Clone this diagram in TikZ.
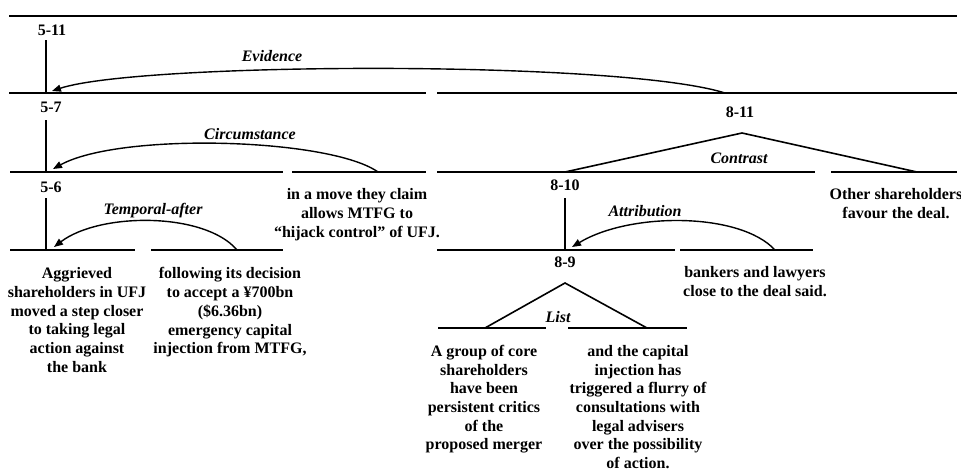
\documentclass[tikz,border=0pt]{standalone}
\usepackage{fontspec}
\setmainfont{Liberation Serif}
\usetikzlibrary{arrows.meta}
\begin{document}
\begin{tikzpicture}[x=1pt,y=-1pt,
  seg/.style={line width=1.6pt},
  rel/.style={line width=1.4pt,-{Triangle[length=9pt,width=7pt]}},
  txt/.style={anchor=north,inner sep=0pt,align=center,font=\fontsize{16}{18.7}\selectfont\bfseries},
  span/.style={anchor=base,inner sep=0pt,font=\fontsize{16}{18}\selectfont\bfseries},
  lab/.style={anchor=base,inner sep=0pt,font=\fontsize{16}{18}\selectfont\bfseries\itshape}]
\useasboundingbox (0,0) rectangle (961,471);

% horizontal span lines
\draw[seg] (9,16) -- (957,16);
\draw[seg] (9,93) -- (426,93);
\draw[seg] (437,93) -- (957,93);
\draw[seg] (10,172) -- (283,172);
\draw[seg] (292,172) -- (426,172);
\draw[seg] (437,172) -- (815,172);
\draw[seg] (831,172) -- (957,172);
\draw[seg] (10,250) -- (135,250);
\draw[seg] (151,250) -- (283,250);
\draw[seg] (437,250) -- (675,250);
\draw[seg] (680,250) -- (813,250);
\draw[seg] (438,328) -- (546,328);
\draw[seg] (568,328) -- (687,328);

% span labels
\node[span] (n511) at (52,35) {5-11};
\node[span] (n57) at (51,112) {5-7};
\node[span] (n56) at (51,192) {5-6};
\node[span] (n811) at (740,117) {8-11};
\node[span] (n810) at (565,190) {8-10};
\node[span] (n89) at (565,267) {8-9};

% vertical lines (nucleus)
\coordinate (v511t) at (46,40);  \coordinate (v511b) at (46,93);
\coordinate (v57t) at (46,120);  \coordinate (v57b) at (46,172);
\coordinate (v56t) at (46,198);  \coordinate (v56b) at (46,250);
\coordinate (v810t) at (565,198); \coordinate (v810b) at (565,250);
\draw[seg] (v511t) -- (v511b);
\draw[seg] (v57t) -- (v57b);
\draw[seg] (v56t) -- (v56b);
\draw[seg] (v810t) -- (v810b);

% multinuclear triangles
\coordinate (c811) at (742,133); \coordinate (c811l) at (565,172); \coordinate (c811r) at (917,172);
\draw[seg] (c811l) -- (c811) -- (c811r);
\coordinate (c89) at (565,283); \coordinate (c89l) at (485,328); \coordinate (c89r) at (647,328);
\draw[seg] (c89l) -- (c89) -- (c89r);

% relation arrows
\coordinate (evs) at (725,93);  \coordinate (evt) at (52,91);
\draw[rel] (evs) .. controls (620,60) and (140,62) .. (evt);
\coordinate (cis) at (378,172); \coordinate (cit) at (53,169);
\draw[rel] (cis) .. controls (330,138) and (120,132) .. (cit);
\coordinate (tes) at (237,250); \coordinate (tet) at (54,247);
\draw[rel] (tes) .. controls (205,212) and (100,212) .. (tet);
\coordinate (ats) at (775,250); \coordinate (att) at (572,247);
\draw[rel] (ats) .. controls (740,212) and (630,212) .. (att);

% relation labels
\node[lab] (lev) at (272,61) {Evidence};
\node[lab] (lci) at (250,139) {Circumstance};
\node[lab] (lco) at (739,163) {Contrast};
\node[lab] (lte) at (153,214) {Temporal-after};
\node[lab] (lat) at (645,216) {Attribution};
\node[lab] (lli) at (558,322) {List};

% text segments
\node[txt] (tmove) at (357,188.5) {in a move they claim\\allows MTFG to\\``hijack control'' of UFJ.};
\node[txt] (tother) at (896,188.5) {Other shareholders\\favour the deal.};
\node[txt] (tagg) at (77,267.5) {Aggrieved\\shareholders in UFJ\\moved a step closer\\to taking legal\\action against\\the bank};
\node[txt] (tfol) at (230,267.5) {following its decision\\to accept a ¥700bn\\(\$6.36bn)\\emergency capital\\injection from MTFG,};
\node[txt] (tbank) at (755,266.5) {bankers and lawyers\\close to the deal said.};
\node[txt] (tcore) at (484,345) {A group of core\\shareholders\\have been\\persistent critics\\of the\\proposed merger};
\node[txt] (tcap) at (638,345) {and the capital\\injection has\\triggered a flurry of\\consultations with\\legal advisers\\over the possibility\\of action.};
\end{tikzpicture}
\end{document}
